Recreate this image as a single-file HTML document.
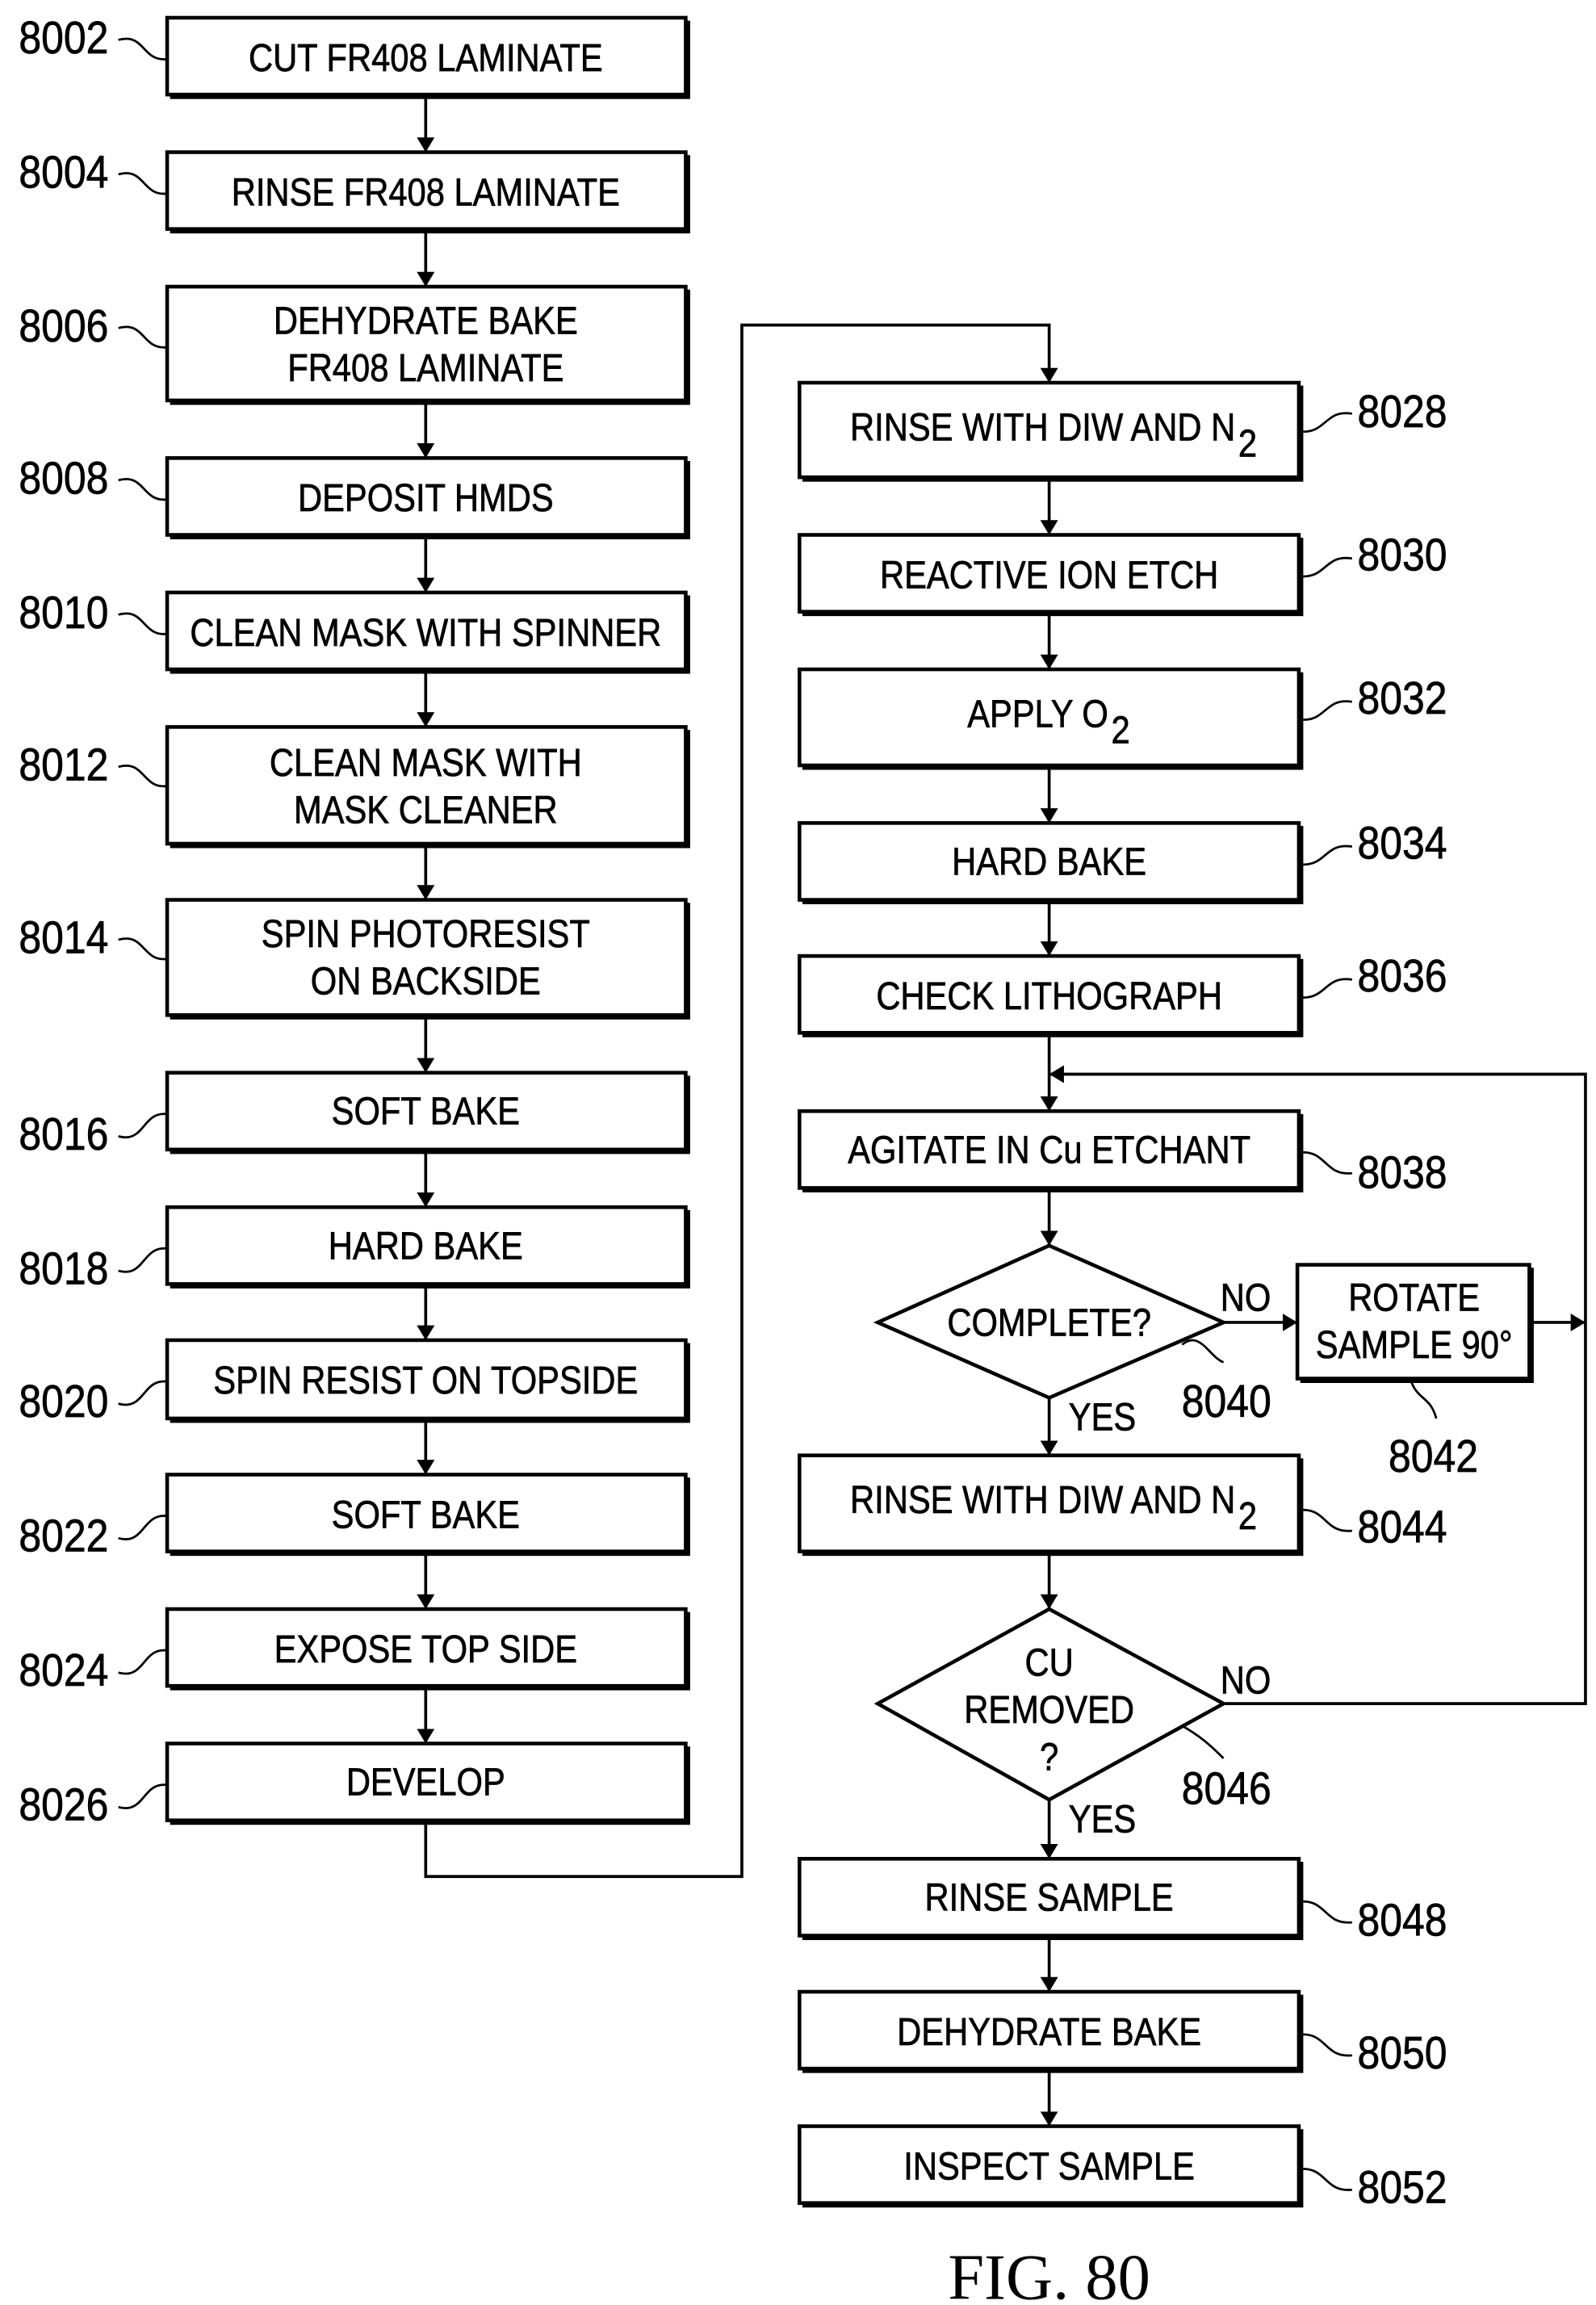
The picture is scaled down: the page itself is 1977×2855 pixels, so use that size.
<!DOCTYPE html>
<html><head><meta charset="utf-8"><style>html,body{margin:0;padding:0;background:#fff}svg{display:block}</style></head>
<body>
<svg width="1977" height="2855" viewBox="0 0 1080 1560" xmlns="http://www.w3.org/2000/svg">
<defs>
<marker id="a" markerWidth="10" markerHeight="14" refX="10" refY="7" orient="auto" markerUnits="userSpaceOnUse">
<path d="M0,1 L10,7 L0,13 Z" fill="#000"/></marker>
</defs>
<g fill="none" stroke="#000" stroke-width="2.5">
<rect x="113" y="12" width="351" height="52"/>
<rect x="113" y="103" width="351" height="52"/>
<rect x="113" y="194" width="351" height="77"/>
<rect x="113" y="310" width="351" height="52"/>
<rect x="113" y="401" width="351" height="52"/>
<rect x="113" y="492" width="351" height="79"/>
<rect x="113" y="609" width="351" height="78"/>
<rect x="113" y="726" width="351" height="52"/>
<rect x="113" y="817" width="351" height="52"/>
<rect x="113" y="907" width="351" height="53"/>
<rect x="113" y="998" width="351" height="52"/>
<rect x="113" y="1089" width="351" height="52"/>
<rect x="113" y="1180" width="351" height="52"/>
<rect x="541" y="259" width="338" height="64"/>
<rect x="541" y="362" width="338" height="52"/>
<rect x="541" y="453" width="338" height="65"/>
<rect x="541" y="557" width="338" height="52"/>
<rect x="541" y="647" width="338" height="52"/>
<rect x="541" y="752" width="338" height="52"/>
<rect x="878" y="856" width="157" height="77"/>
<rect x="541" y="985" width="338" height="65"/>
<rect x="541" y="1258" width="338" height="52"/>
<rect x="541" y="1348" width="338" height="52"/>
<rect x="541" y="1439" width="338" height="52"/>
<polygon points="710,843 828,895 710,946 594,895"/>
<polygon points="710,1089 828,1153 710,1218 594,1153"/>
</g>
<g stroke="#000" stroke-width="2" fill="none">
<path d="M115,66H466V14 M115,157H466V105 M115,273H466V196 M115,364H466V312 M115,455H466V403 M115,573H466V494 M115,689H466V611 M115,780H466V728 M115,871H466V819 M115,962H466V909 M115,1052H466V1000 M115,1143H466V1091 M115,1234H466V1182"/>
<path d="M543,325H881V261 M543,416H881V364 M543,520H881V455 M543,611H881V559 M543,701H881V649 M543,806H881V754 M880,935H1037V858 M543,1052H881V987 M543,1312H881V1260 M543,1402H881V1350 M543,1493H881V1441"/>
</g>
<g stroke="#000" stroke-width="2" fill="none" marker-end="url(#a)">
<path d="M288,65V103"/><path d="M288,156V194"/><path d="M288,272V310"/><path d="M288,363V401"/>
<path d="M288,454V492"/><path d="M288,572V609"/><path d="M288,688V726"/><path d="M288,779V817"/>
<path d="M288,870V907"/><path d="M288,961V998"/><path d="M288,1051V1089"/><path d="M288,1142V1180"/>
<path d="M288,1233V1270H502V220H710V259"/>
<path d="M710,324V362"/><path d="M710,415V453"/><path d="M710,519V557"/><path d="M710,610V647"/>
<path d="M710,700V752"/><path d="M710,805V843"/><path d="M710,946V985"/><path d="M710,1051V1089"/>
<path d="M710,1218V1258"/><path d="M710,1311V1348"/><path d="M710,1401V1439"/>
<path d="M828,895H878"/><path d="M1035,895H1073"/>
<path d="M828,1153H1073V727H710"/>
</g>
<g stroke="#000" stroke-width="1.5" fill="none">
<path d="M80,27C98,22 96,42 113,40"/><path d="M80,118C98,113 96,133 113,131"/>
<path d="M80,222C98,217 96,237 113,235"/><path d="M80,325C98,320 96,340 113,338"/>
<path d="M80,416C98,411 96,431 113,429"/><path d="M80,519C98,514 96,534 113,532"/>
<path d="M80,636C98,631 96,651 113,649"/><path d="M80,769C98,774 96,752 113,754"/>
<path d="M80,860C98,865 96,843 113,845"/><path d="M80,950C98,955 96,933 113,935"/>
<path d="M80,1041C98,1046 96,1024 113,1026"/><path d="M80,1132C98,1137 96,1115 113,1117"/>
<path d="M80,1223C98,1228 96,1206 113,1208"/>
<path d="M879,292C898,294 896,277 915,280"/><path d="M879,390C898,392 896,375 915,378"/>
<path d="M879,487C898,489 896,472 915,475"/><path d="M879,585C898,587 896,570 915,573"/>
<path d="M879,675C898,677 896,660 915,663"/>
<path d="M879,780C898,778 896,796 915,794"/><path d="M879,1022C898,1020 896,1038 915,1036"/>
<path d="M879,1287C898,1285 896,1303 915,1301"/><path d="M879,1377C898,1375 896,1393 915,1391"/>
<path d="M879,1468C898,1466 896,1484 915,1482"/>
<path d="M800,910C812,900 818,918 828,922"/>
<path d="M955,935C960,948 968,945 972,960"/>
<path d="M800,1168C812,1175 818,1180 828,1190"/>
</g>
<g font-family="Liberation Sans, Arial, sans-serif" font-size="26.5" fill="#000" stroke="#000" stroke-width="0.4" text-anchor="middle">
<text transform="translate(288,48) scale(.86,1)">CUT FR408 LAMINATE</text>
<text transform="translate(288,139) scale(.86,1)">RINSE FR408 LAMINATE</text>
<text transform="translate(288,226) scale(.86,1)">DEHYDRATE BAKE</text>
<text transform="translate(288,258) scale(.86,1)">FR408 LAMINATE</text>
<text transform="translate(288,346) scale(.86,1)">DEPOSIT HMDS</text>
<text transform="translate(288,437) scale(.86,1)">CLEAN MASK WITH SPINNER</text>
<text transform="translate(288,525) scale(.86,1)">CLEAN MASK WITH</text>
<text transform="translate(288,557) scale(.86,1)">MASK CLEANER</text>
<text transform="translate(288,641) scale(.86,1)">SPIN PHOTORESIST</text>
<text transform="translate(288,673) scale(.86,1)">ON BACKSIDE</text>
<text transform="translate(288,761) scale(.86,1)">SOFT BAKE</text>
<text transform="translate(288,852) scale(.86,1)">HARD BAKE</text>
<text transform="translate(288,943) scale(.86,1)">SPIN RESIST ON TOPSIDE</text>
<text transform="translate(288,1034) scale(.86,1)">SOFT BAKE</text>
<text transform="translate(288,1125) scale(.86,1)">EXPOSE TOP SIDE</text>
<text transform="translate(288,1215) scale(.86,1)">DEVELOP</text>
<text transform="translate(836,298) scale(.86,1)" text-anchor="end">RINSE WITH DIW AND N</text>
<text transform="translate(838,309) scale(.86,1)" text-anchor="start">2</text>
<text transform="translate(710,398) scale(.86,1)">REACTIVE ION ETCH</text>
<text transform="translate(750,492) scale(.86,1)" text-anchor="end">APPLY O</text>
<text transform="translate(752,503) scale(.86,1)" text-anchor="start">2</text>
<text transform="translate(710,592) scale(.86,1)">HARD BAKE</text>
<text transform="translate(710,683) scale(.86,1)">CHECK LITHOGRAPH</text>
<text transform="translate(710,787) scale(.86,1)">AGITATE IN Cu ETCHANT</text>
<text transform="translate(710,904) scale(.86,1)">COMPLETE?</text>
<text transform="translate(957,887) scale(.86,1)">ROTATE</text>
<text transform="translate(957,919) scale(.86,1)">SAMPLE 90°</text>
<text transform="translate(836,1024) scale(.86,1)" text-anchor="end">RINSE WITH DIW AND N</text>
<text transform="translate(838,1035) scale(.86,1)" text-anchor="start">2</text>
<text transform="translate(710,1134) scale(.86,1)">CU</text>
<text transform="translate(710,1166) scale(.86,1)">REMOVED</text>
<text transform="translate(710,1198) scale(.86,1)">?</text>
<text transform="translate(710,1293) scale(.86,1)">RINSE SAMPLE</text>
<text transform="translate(710,1384) scale(.86,1)">DEHYDRATE BAKE</text>
<text transform="translate(710,1475) scale(.86,1)">INSPECT SAMPLE</text>
<text transform="translate(843,887) scale(.86,1)">NO</text>
<text transform="translate(843,1146) scale(.86,1)">NO</text>
<text transform="translate(746,968) scale(.86,1)">YES</text>
<text transform="translate(746,1240) scale(.86,1)">YES</text>
</g>
<g font-family="Liberation Sans, Arial, sans-serif" font-size="31" fill="#000" stroke="#000" stroke-width="0.4" text-anchor="middle">
<text transform="translate(43,36) scale(.88,1)">8002</text>
<text transform="translate(43,127) scale(.88,1)">8004</text>
<text transform="translate(43,231) scale(.88,1)">8006</text>
<text transform="translate(43,334) scale(.88,1)">8008</text>
<text transform="translate(43,425) scale(.88,1)">8010</text>
<text transform="translate(43,528) scale(.88,1)">8012</text>
<text transform="translate(43,645) scale(.88,1)">8014</text>
<text transform="translate(43,778) scale(.88,1)">8016</text>
<text transform="translate(43,869) scale(.88,1)">8018</text>
<text transform="translate(43,959) scale(.88,1)">8020</text>
<text transform="translate(43,1050) scale(.88,1)">8022</text>
<text transform="translate(43,1141) scale(.88,1)">8024</text>
<text transform="translate(43,1232) scale(.88,1)">8026</text>
<text transform="translate(949,289) scale(.88,1)">8028</text>
<text transform="translate(949,386) scale(.88,1)">8030</text>
<text transform="translate(949,483) scale(.88,1)">8032</text>
<text transform="translate(949,581) scale(.88,1)">8034</text>
<text transform="translate(949,671) scale(.88,1)">8036</text>
<text transform="translate(949,804) scale(.88,1)">8038</text>
<text transform="translate(830,959) scale(.88,1)">8040</text>
<text transform="translate(970,996) scale(.88,1)">8042</text>
<text transform="translate(949,1044) scale(.88,1)">8044</text>
<text transform="translate(830,1221) scale(.88,1)">8046</text>
<text transform="translate(949,1310) scale(.88,1)">8048</text>
<text transform="translate(949,1400) scale(.88,1)">8050</text>
<text transform="translate(949,1491) scale(.88,1)">8052</text>
</g>
<text x="710" y="1556" font-family="Liberation Serif, serif" font-size="44" text-anchor="middle">FIG. 80</text>
</svg>
</body></html>
